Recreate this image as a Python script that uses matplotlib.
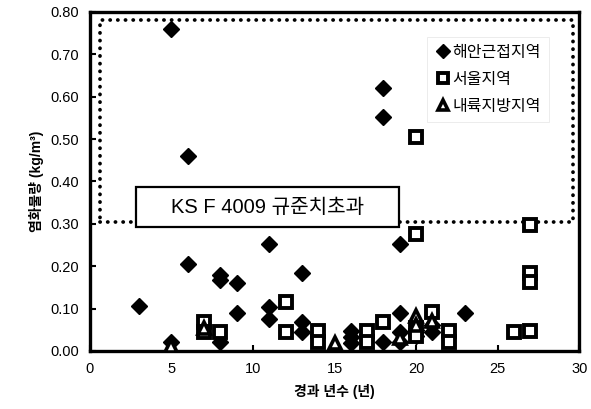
import matplotlib
matplotlib.use('Agg')
import matplotlib.pyplot as plt
from matplotlib.patches import Rectangle

plt.rcParams['font.family'] = ['Liberation Sans', 'Noto Sans CJK KR']

#%% data
coast_x = [3, 5, 5, 6, 6, 8, 8, 8, 9, 9, 11, 11, 11, 13, 13, 13, 16, 16, 16,
           18, 18, 18, 19, 19, 19, 19, 20, 20, 21, 21, 23]
coast_y = [0.105, 0.76, 0.02, 0.46, 0.205, 0.18, 0.167, 0.02, 0.16, 0.09,
           0.253, 0.103, 0.075, 0.183, 0.068, 0.045, 0.048, 0.032, 0.018,
           0.62, 0.553, 0.02, 0.253, 0.09, 0.045, 0.02, 0.05, 0.035, 0.062,
           0.045, 0.09]

seoul_x = [7, 7, 8, 12, 12, 14, 14, 17, 17, 18, 20, 20, 20, 20, 21, 22, 22,
           26, 27, 27, 27, 27]
seoul_y = [0.068, 0.045, 0.045, 0.115, 0.045, 0.048, 0.022, 0.048, 0.022,
           0.068, 0.505, 0.277, 0.055, 0.035, 0.093, 0.048, 0.022, 0.045,
           0.298, 0.183, 0.162, 0.047]

inland_x = [5, 7, 15, 19, 20, 20, 21]
inland_y = [0.012, 0.055, 0.018, 0.03, 0.082, 0.06, 0.07]

labels = ['해안근접지역', '서울지역', '내륙지방지역']
limit_text = 'KS F 4009 규준치초과'
limit_value = 0.305

#%% plot
fig = plt.figure(figsize=(5.91, 4.09), dpi=100)
ax = fig.add_axes([0.152, 0.142, 0.828, 0.829])

ax.plot(coast_x, coast_y, 'D', color='black', markersize=8,
        label=labels[0], zorder=3)
ax.plot(seoul_x, seoul_y, 's', markerfacecolor='white',
        markeredgecolor='black', markeredgewidth=2.8, markersize=8,
        label=labels[1], zorder=3)
ax.plot(inland_x, inland_y, '^', markerfacecolor='white',
        markeredgecolor='black', markeredgewidth=2.6, markersize=8,
        label=labels[2], zorder=3)

# dotted region above the limit
box = Rectangle((0.6, limit_value), 29.0, 0.78 - limit_value,
                fill=False, edgecolor='black', linewidth=2.7,
                linestyle=(0, (0.05, 2.0)), zorder=2)
box.set_capstyle('round')
ax.add_patch(box)
ax.add_patch(Rectangle((2.85, 0.293), 16.1, 0.093, facecolor='white',
                       edgecolor='black', linewidth=1.6, zorder=4))
ax.text(10.9, 0.339, limit_text, ha='center', va='center', fontsize=14.5,
        zorder=5)

ax.set_xlim(0, 30)
ax.set_ylim(0, 0.8)
ax.set_xticks([0, 5, 10, 15, 20, 25, 30])
ax.set_yticks([i / 10 for i in range(9)])
ax.set_yticklabels(['%.2f' % (i / 10) for i in range(9)])
ax.tick_params(direction='in', length=4, width=1.5, labelsize=10.5, pad=8)
for s in ax.spines.values():
    s.set_linewidth(2.4)

ax.set_xlabel('경과 년수 (년)', fontsize=10, fontweight='bold', labelpad=6)
ax.set_ylabel('염화물량 (kg/m³)', fontsize=10, fontweight='bold',
              labelpad=4)

leg = ax.legend(loc='upper right', bbox_to_anchor=(0.955, 0.95),
                prop={'size': 11.5, 'weight': 'medium'},
                handletextpad=0.1, labelspacing=0.75,
                markerscale=0.85, borderpad=0.5, fancybox=False,
                handlelength=1.0)
leg.get_frame().set_edgecolor('#e4e4e4')
leg.get_frame().set_linewidth(0.6)

fig.savefig('out.png', dpi=100)
